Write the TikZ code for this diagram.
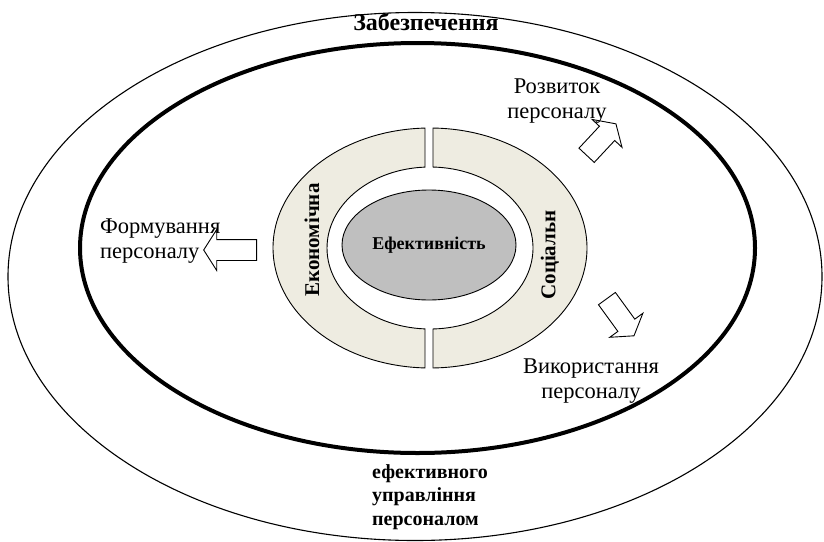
\documentclass[tikz,border=0pt]{standalone}
\usepackage{fontspec}
\setmainfont{Liberation Serif}
\usetikzlibrary{shapes.geometric}
\usetikzlibrary{shapes.arrows}
\usetikzlibrary{calc}

\definecolor{ringfill}{RGB}{238,236,225}
\definecolor{corefill}{RGB}{191,191,191}

\begin{document}
\begin{tikzpicture}[x=1pt,y=-1pt,
        oval/.style = {draw, ellipse, inner sep=0pt},
        ringpart/.style = {draw, fill=ringfill, line width=0.9pt},
        blockarrow/.style = {draw, fill=white, single arrow, line width=0.9pt,
            inner xsep=0pt, inner ysep=10pt, text height=0pt, text depth=0pt, text width=0pt,
            single arrow head extend=10pt, single arrow tip angle=115},
        caption/.style = {font=\fontsize{22.5}{25.5}\selectfont, align=center, inner sep=0pt},
        ringtext/.style = {font=\bfseries\fontsize{21}{24}\selectfont, rotate=90, inner sep=0pt}]
            \useasboundingbox (0,0) rectangle (824,541);
            \node[oval, line width=1.1pt, minimum width=814pt, minimum height=528pt] (outer) at (415,276.5) {};
            \node[oval, line width=4pt, minimum width=675pt, minimum height=410pt] (main) at (417.5,248) {};
            % ring of two halves
            \coordinate (rc) at (430,248);
            \draw[ringpart] ($(rc)+(268.17:157 and 120)$) arc[start angle=268.17, end angle=91.83, x radius=157, y radius=120]
                -- ($(rc)+(92.78:103 and 81)$) arc[start angle=92.78, end angle=267.22, x radius=103, y radius=81] -- cycle;
            \draw[ringpart] ($(rc)+(-88.9:157 and 120)$) arc[start angle=-88.9, end angle=88.9, x radius=157, y radius=120]
                -- ($(rc)+(88.33:103 and 81)$) arc[start angle=88.33, end angle=-88.33, x radius=103, y radius=81] -- cycle;
            \node[oval, fill=corefill, line width=0.9pt, minimum width=174pt, minimum height=110pt,
                font=\bfseries\fontsize{18}{21}\selectfont] (core) at (429,245) {Ефективність};
            \node[ringtext] (econ) at (312,240) {Економічна};
            \node[ringtext] (soc) at (550,255) {Соціальн};
            % arrows
            \node[blockarrow, minimum height=53pt, rotate=180] (formarrow) at (233.5,250) {};
            \node[blockarrow, minimum height=43pt, rotate=47] (rozvarrow) at (599,142) {};
            \node[blockarrow, minimum height=46pt, rotate=-54] (vykarrow) at (618.5,314.5) {};
            % labels
            \node[caption, align=left, anchor=west] (form) at (100,241) {Формування\\персоналу};
            \node[caption] (rozv) at (557,101) {Розвиток\\персоналу};
            \node[caption] (vyk) at (591,381) {Використання\\персоналу};
            \node[font=\bfseries\fontsize{24}{28}\selectfont] (zab) at (426,22) {Забезпечення};
            \node[font=\bfseries\fontsize{20}{23.5}\selectfont, align=left, inner sep=0pt, anchor=west] (upr) at (372,497) {ефективного\\управління\\персоналом};
        \end{tikzpicture}
\end{document}
